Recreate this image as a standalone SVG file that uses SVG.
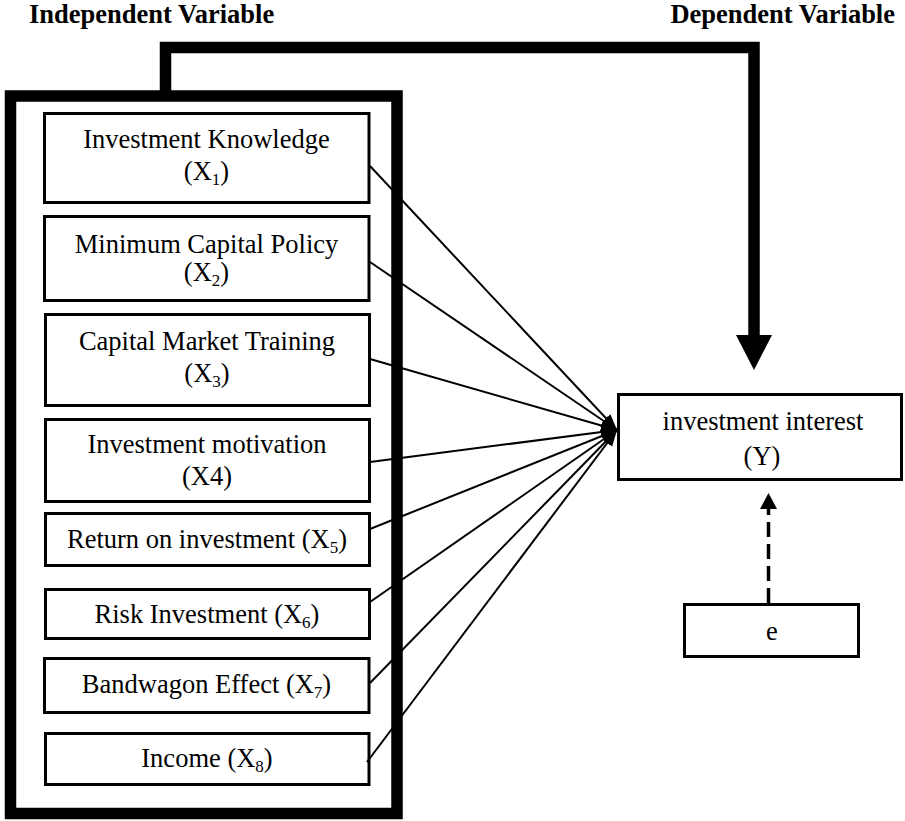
<svg xmlns="http://www.w3.org/2000/svg" width="905" height="821" viewBox="0 0 905 821">
<style>
text{font-family:'Liberation Serif','Times New Roman','DejaVu Serif',serif;fill:#000;}
.t{font-size:26.5px;text-anchor:middle;}
.h{font-size:26.5px;font-weight:bold;}
.s{font-size:17px;}
.box{fill:#fff;stroke:#000;stroke-width:3;}
.ln{stroke:#000;stroke-width:2;fill:none;marker-end:url(#ah);}
</style>
<defs>
<marker id="ah" markerUnits="userSpaceOnUse" markerWidth="18" markerHeight="14" refX="16" refY="6" orient="auto">
<path d="M0,0 L16,6 L0,12 Z" fill="#000"/>
</marker>
</defs>
<rect width="905" height="821" fill="#fff"/>
<text class="h" x="29" y="23">Independent Variable</text>
<text class="h" x="895" y="23" text-anchor="end">Dependent Variable</text>
<g id="frame">
<rect x="10.5" y="96" width="386.5" height="717.5" fill="none" stroke="#000" stroke-width="11.5"/>
</g>
<g id="x1"><rect class="box" x="44.5" y="113.5" width="324.5" height="89"/>
<text class="t" x="206.5" y="148">Investment Knowledge</text>
<text class="t" x="206.5" y="180">(X<tspan class="s" dy="5">1</tspan><tspan dy="-5">)</tspan></text></g>
<g id="x2"><rect class="box" x="44.5" y="216.5" width="324.5" height="84"/>
<text class="t" x="206.5" y="253">Minimum Capital Policy</text>
<text class="t" x="206.5" y="281">(X<tspan class="s" dy="5">2</tspan><tspan dy="-5">)</tspan></text></g>
<g id="x3"><rect class="box" x="45.5" y="314.5" width="324" height="91"/>
<text class="t" x="207" y="350">Capital Market Training</text>
<text class="t" x="207" y="382">(X<tspan class="s" dy="5">3</tspan><tspan dy="-5">)</tspan></text></g>
<g id="x4"><rect class="box" x="45.5" y="419.5" width="324" height="82"/>
<text class="t" x="207" y="453">Investment motivation</text>
<text class="t" x="207" y="485">(X4)</text></g>
<g id="x5"><rect class="box" x="45.5" y="513.5" width="324" height="52"/>
<text class="t" x="207" y="548">Return on investment (X<tspan class="s" dy="5">5</tspan><tspan dy="-5">)</tspan></text></g>
<g id="x6"><rect class="box" x="45.5" y="589.5" width="324" height="49"/>
<text class="t" x="207" y="623">Risk Investment (X<tspan class="s" dy="5">6</tspan><tspan dy="-5">)</tspan></text></g>
<g id="x7"><rect class="box" x="44.5" y="658.5" width="324.5" height="54"/>
<text class="t" x="206.5" y="693">Bandwagon Effect (X<tspan class="s" dy="5">7</tspan><tspan dy="-5">)</tspan></text></g>
<g id="x8"><rect class="box" x="45.5" y="733.5" width="323.5" height="51"/>
<text class="t" x="207" y="767">Income (X<tspan class="s" dy="5">8</tspan><tspan dy="-5">)</tspan></text></g>
<g id="y"><rect class="box" x="618.5" y="394.5" width="283" height="85"/>
<text class="t" x="763" y="430">investment interest</text>
<text class="t" x="762" y="465">(Y)</text></g>
<g id="e"><rect class="box" x="684.5" y="604.5" width="174" height="52"/>
<text class="t" x="772" y="640">e</text></g>
<g id="connectors">
<path d="M165.5,96 V47.5 H754 V336" fill="none" stroke="#000" stroke-width="11.5" stroke-linejoin="miter"/>
<polygon points="736,335 772,335 754,370" fill="#000"/>
<line class="ln" x1="370" y1="166" x2="617" y2="430"/>
<line class="ln" x1="370" y1="262" x2="617" y2="430"/>
<line class="ln" x1="370" y1="359" x2="617" y2="430"/>
<line class="ln" x1="370" y1="462" x2="617" y2="430"/>
<line class="ln" x1="370" y1="529" x2="617" y2="430"/>
<line class="ln" x1="370" y1="602" x2="617" y2="430"/>
<line class="ln" x1="370" y1="683" x2="617" y2="430"/>
<line class="ln" x1="367" y1="762" x2="617" y2="430"/>
<line x1="768.5" y1="603" x2="768.5" y2="508" stroke="#000" stroke-width="3.5" stroke-dasharray="15 7"/>
<polygon points="760,509 777,509 768.5,493" fill="#000"/>
</g>
</svg>
